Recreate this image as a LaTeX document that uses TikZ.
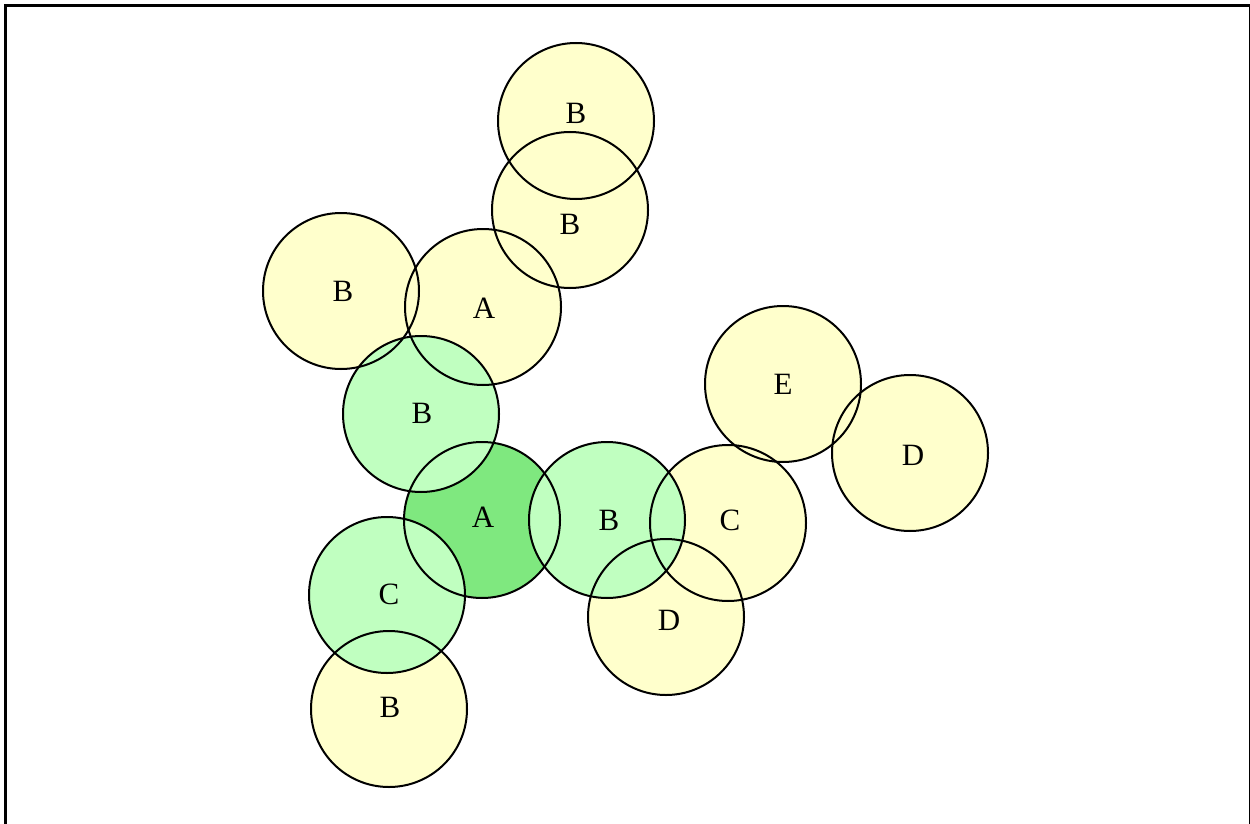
\documentclass[tikz,border=0pt]{standalone}
\usepackage{fontspec}
\setmainfont{Liberation Serif}
\definecolor{cyel}{HTML}{FFFFCC}
\definecolor{cgrn}{HTML}{C0FFC0}
\definecolor{cdark}{HTML}{7FE87F}
\begin{document}
\begin{tikzpicture}[x=1pt,y=-1pt,
  lbl/.style={inner sep=0pt,font=\fontsize{31}{31}\selectfont},
  ring/.style={draw=black,line width=2pt}]
\useasboundingbox (0,0) rectangle (1250,824);
\begin{scope}
\clip (0,0) rectangle (1250,824);
\draw[line width=3pt] (5.5,5.5) rectangle (1250.5,840);
\end{scope}
% centres
\coordinate (c1) at (576,121);
\coordinate (c2) at (570,210);
\coordinate (c3) at (341,291);
\coordinate (c4) at (483,307);
\coordinate (c5) at (421,414);
\coordinate (c6) at (482,520);
\coordinate (c7) at (607,520);
\coordinate (c8) at (728,523);
\coordinate (c9) at (783,384);
\coordinate (c10) at (910,453);
\coordinate (c11) at (387,595);
\coordinate (c12) at (389,709);
\coordinate (c13) at (666,617);
\def\R{78}
% yellow fills
\foreach \c in {c1,c2,c3,c4,c8,c9,c10,c12,c13}
  \fill[cyel] (\c) circle (\R);
\fill[cdark] (c6) circle (\R);
\foreach \c in {c5,c7,c11}
  \fill[cgrn] (\c) circle (\R);
% outlines
\foreach \c in {c1,c2,c3,c4,c5,c6,c7,c8,c9,c10,c11,c12,c13}
  \draw[ring] (\c) circle (\R);
% labels
\node[lbl] (l1) at (576,113) {B};
\node[lbl] (l2) at (570,224.5) {B};
\node[lbl] (l3) at (343,291.5) {B};
\node[lbl] (l4) at (484,308) {A};
\node[lbl] (l5) at (422,413) {B};
\node[lbl] (l6) at (483,517) {A};
\node[lbl] (l7) at (609,520) {B};
\node[lbl] (l8) at (730,520) {C};
\node[lbl] (l9) at (783,384.5) {E};
\node[lbl] (l10) at (913,455.5) {D};
\node[lbl] (l11) at (389,594) {C};
\node[lbl] (l12) at (390,707) {B};
\node[lbl] (l13) at (669,620) {D};
\end{tikzpicture}
\end{document}
